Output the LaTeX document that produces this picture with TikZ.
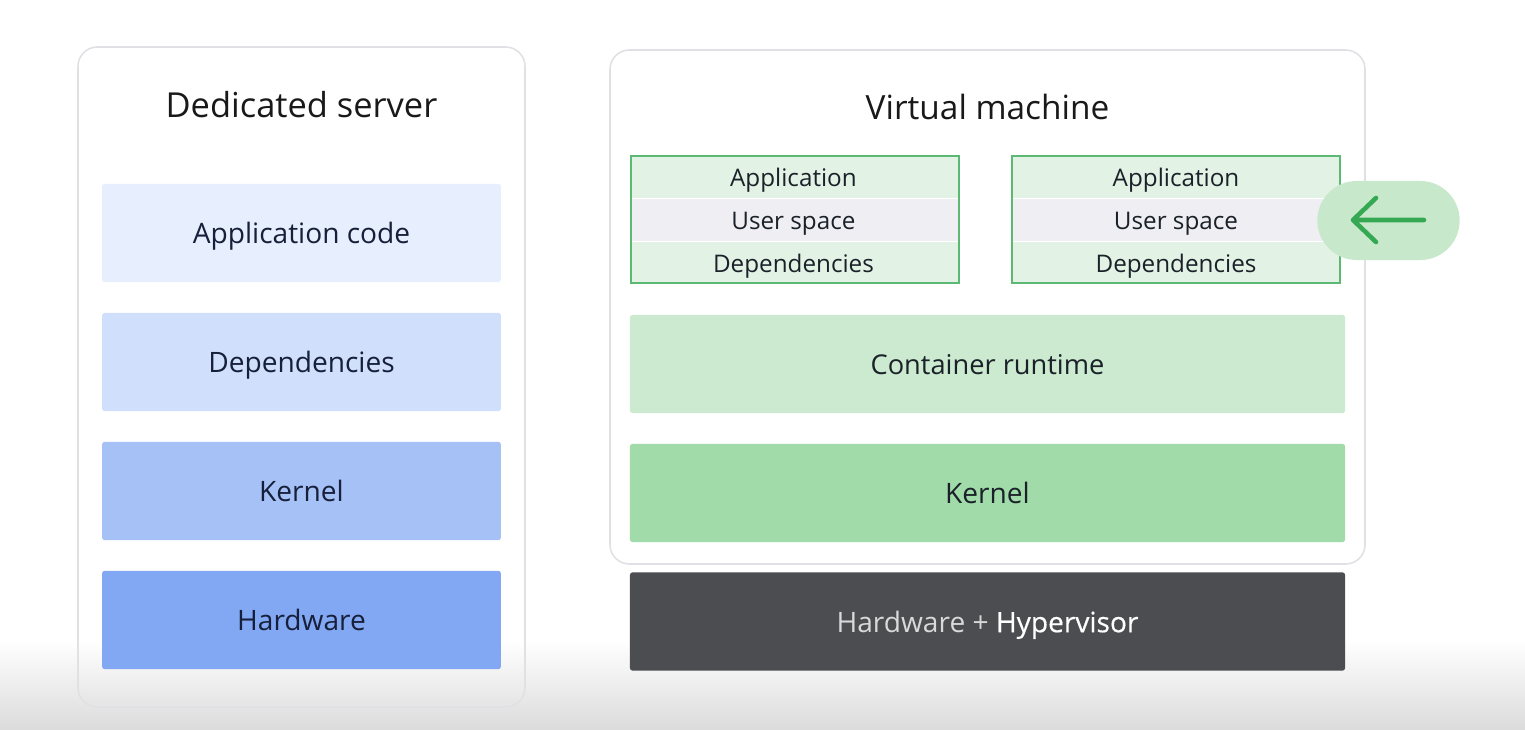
\documentclass[tikz,border=0pt]{standalone}
\usepackage{fontspec}
\setmainfont{Open Sans}
\definecolor{paneledge}{HTML}{E0E1E4}
\definecolor{bluea}{HTML}{E7EEFD}
\definecolor{blueb}{HTML}{D0DFFB}
\definecolor{bluec}{HTML}{A6C1F6}
\definecolor{blued}{HTML}{82A7F3}
\definecolor{greena}{HTML}{CBEACF}
\definecolor{greenb}{HTML}{A1DBA9}
\definecolor{greenc}{HTML}{E2F3E5}
\definecolor{greenedge}{HTML}{5BB974}
\definecolor{greenarrow}{HTML}{34A853}
\definecolor{pillfill}{HTML}{C8E8CC}
\definecolor{userrow}{HTML}{EEEEF3}
\definecolor{darkbox}{HTML}{4C4D51}
\definecolor{inktext}{HTML}{1B2129}
\definecolor{navytext}{HTML}{17203A}
\tikzset{
    panel/.style={draw=paneledge, line width=0.9pt, rounded corners=11pt},
    title/.style={font=\fontsize{19.6}{23}\selectfont, text=black!90},
    layer/.style={rounded corners=1.5pt, inner sep=0pt, text=inktext, font=\fontsize{16}{19}\selectfont,
        text height=12.2pt, text depth=0pt},
    row/.style={inner sep=0pt, text=inktext, font=\fontsize{13.8}{16}\selectfont, minimum width=186pt, minimum height=24.2pt,
        text height=10.6pt, text depth=0pt}
}
\begin{document}
\begin{tikzpicture}[x=0.02cm,y=-0.02cm]
\useasboundingbox (0,0) rectangle (1525,730);
% bottom fade
\shade[top color=white, bottom color=black!14] (0,640) rectangle (1525,730);
% panels
\draw[panel] (78,47) rectangle (525,707);
\draw[panel] (610,50) rectangle (1365,564);
\node[title] (dedicated) at (301.5,105) {Dedicated server};
\node[title, font=\fontsize{19}{23}\selectfont] (virtual) at (987.5,107) {Virtual machine};
% left stack
\foreach \y/\c/\n/\t in {233/bluea/code/Application code, 362/blueb/deps/Dependencies, 491/bluec/kernel/Kernel, 620/blued/hardware/Hardware}{
    \node[layer, fill=\c, text=navytext, minimum width=227pt, minimum height=56pt] (left\n) at (301.5,\y) {\t};
}
% right stack
\node[layer, fill=greena, font=\fontsize{15.5}{19}\selectfont, minimum width=407pt, minimum height=56pt] (runtime) at (987.5,364) {Container runtime};
\node[layer, fill=greenb, minimum width=407pt, minimum height=56pt] (kernel) at (987.5,493) {Kernel};
\node[layer, fill=darkbox, minimum width=407pt, minimum height=56pt, text=white!85!black] (hyper) at (987.5,621.5) {Hardware + \textcolor{white}{\addfontfeature{FakeBold=0.4}Hypervisor}};
% containers
\foreach \x/\s/\n in {795/1.8pt/one, 1176/0pt/two}{
    \node[row, fill=greenc] (app\n) at (\x,177) {Application\hspace*{\s}};
    \node[row, fill=userrow] (user\n) at (\x,220) {User space\hspace*{\s}};
    \node[row, fill=greenc] (dep\n) at (\x,263) {Dependencies\hspace*{\s}};
    \draw[greenedge, line width=1.1pt] (\x-164,156) rectangle (\x+164,283);
}
% pill and arrow
\node[fill=pillfill, rounded corners=22.4pt, minimum width=81pt, minimum height=45pt, inner sep=0pt] (pill) at (1388.5,220.5) {};
\coordinate (tail) at (1424,220);
\coordinate (tip) at (1353,220);
\draw[greenarrow, line width=2.6pt, line cap=round, line join=round] (tail) -- (tip) (1376,198) -- (tip) -- (1376,242);
\end{tikzpicture}
\end{document}
